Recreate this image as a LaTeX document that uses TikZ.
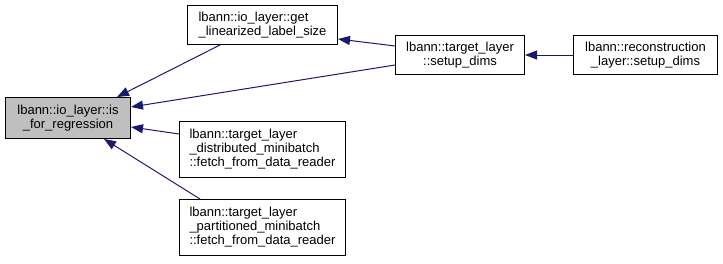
\documentclass[tikz,border=0pt]{standalone}
\usepackage{fontspec}
\setmainfont{Liberation Sans}
\usetikzlibrary{arrows.meta,calc}
\definecolor{edgeblue}{HTML}{191970}
\definecolor{focusgray}{HTML}{BFBFBF}
\begin{document}
\begin{tikzpicture}[x=1pt,y=-1pt,
  fn/.style={draw=black, line width=1pt, inner sep=0pt, anchor=north west,
             font=\fontsize{13}{14}\selectfont, align=center},
  fnleft/.style={fn, align=left},
  focus/.style={fn, fill=focusgray},
  call/.style={draw=edgeblue, line width=1pt,
               {Triangle[length=12pt,width=9pt]}-}]
\useasboundingbox (0,0) rectangle (723,263);

% function nodes (placed by their top-left corners)
\node[focus, minimum width=125pt, minimum height=41pt] (A) at (5,97)
  {lbann::io\_layer::is\\\_for\_regression};
\node[fnleft, minimum width=150pt, minimum height=39pt] (B) at (187,5)
  {lbann::io\_layer::get\\\_linearized\_label\_size};
\node[fn, minimum width=129pt, minimum height=39pt] (C) at (395,35)
  {lbann::target\_layer\\::setup\_dims};
\node[fn, minimum width=144pt, minimum height=39pt] (D) at (573,35)
  {lbann::reconstruction\\\_layer::setup\_dims};
\node[fnleft, minimum width=166pt, minimum height=56pt] (E) at (179,121)
  {lbann::target\_layer\\\_distributed\_minibatch\\::fetch\_from\_data\_reader};
\node[fnleft, minimum width=166pt, minimum height=56pt] (F) at (179,199)
  {lbann::target\_layer\\\_partitioned\_minibatch\\::fetch\_from\_data\_reader};

% call edges, arrowhead at the callee
\draw[call] ($(A.north west)+(112,0)$) -- ($(B.south west)+(33,0)$);
\draw[call] ($(B.north east)+(0,34)$) -- ($(C.north west)+(0,11)$);
\draw[call] ($(A.north east)+(0,10)$) -- ($(C.north west)+(0,30)$);
\draw[call] (C.east) -- (D.west);
\draw[call] ($(A.north east)+(0,30)$) -- ($(E.north west)+(0,13)$);
\draw[call] ($(A.south west)+(99,0)$) -- ($(F.north west)+(21,0)$);
\end{tikzpicture}
\end{document}
